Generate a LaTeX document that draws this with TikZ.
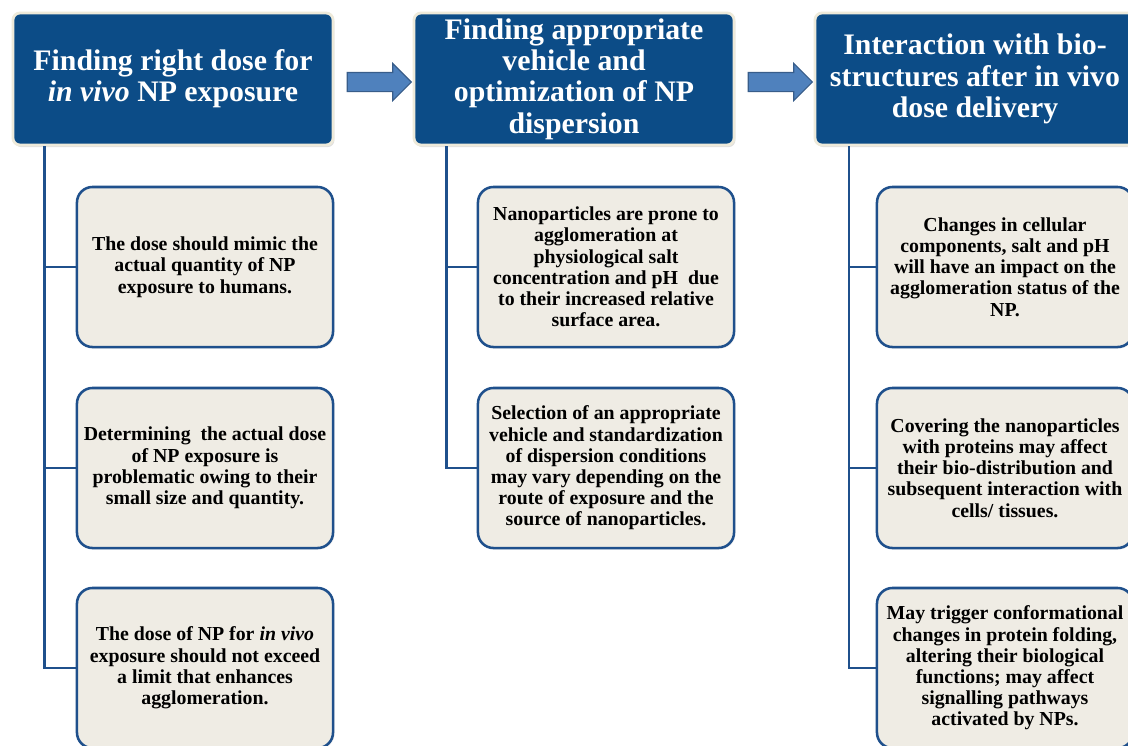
\documentclass[tikz,border=0pt]{standalone}
\usepackage{fontspec}
\setmainfont{Liberation Serif}
\usetikzlibrary{shapes.arrows, shadows, positioning, calc}
\definecolor{headblue}{RGB}{12, 76, 135}
\definecolor{creamrim}{RGB}{238, 234, 218}
\definecolor{linkblue}{RGB}{31, 80, 140}
\definecolor{boxfill}{RGB}{239, 236, 228}
\definecolor{arrowfill}{RGB}{79, 129, 189}
\definecolor{arrowdraw}{RGB}{56, 93, 138}

\begin{document}
\begin{tikzpicture}[
    x=0.025cm, y=-0.025cm,
    % header boxes
    head/.style={rectangle, rounded corners=5pt, draw=creamrim, line width=2pt,
                 fill=headblue, text=white, minimum width=8cm, minimum height=3.3cm,
                 align=center, font=\fontsize{21.2}{22.2}\selectfont\bfseries,
                 drop shadow={opacity=0.25, shadow xshift=1pt, shadow yshift=-1.5pt}},
    % content boxes
    info/.style={rectangle, rounded corners=11pt, draw=linkblue, line width=1.8pt,
                 fill=boxfill, minimum width=6.4cm, minimum height=4cm,
                 align=center, font=\fontsize{14.1}{15.1}\selectfont\bfseries,
                 drop shadow={opacity=0.15, shadow xshift=1pt, shadow yshift=-1pt}},
    % block arrows between headers
    blockarrow/.style={single arrow, draw=arrowdraw, fill=arrowfill, line width=0.8pt,
                       inner sep=0pt, inner ysep=0.225cm, minimum height=1.6cm,
                       single arrow head extend=0.225cm, single arrow head indent=0pt,
                       outer sep=0pt},
    % tree lines
    tree/.style={draw=linkblue, line width=1.8pt},
]

\fill[white] (0,0) rectangle (1128,745);
\clip (0,0) rectangle (1128,745);
\useasboundingbox (0,0) rectangle (1128,745);

% ===================== headers =====================
\node[head] (h1) at (173, 79) {Finding right dose for\\\textit{in vivo} NP exposure};
\node[head] (h2) at (574, 79) {Finding appropriate\\vehicle and\\optimization of NP\\dispersion};
\node[head] (h3) at (975, 79) {Interaction with bio-\\structures after in vivo\\dose delivery};

\node[blockarrow, yshift=-0.075cm, xshift=0.025cm] (ar1) at ($(h1.east)!0.5!(h2.west)$) {};
\node[blockarrow, yshift=-0.075cm, xshift=0.025cm] (ar2) at ($(h2.east)!0.5!(h3.west)$) {};

% ===================== column 1 =====================
\node[info] (a1) at (205, 267) {The dose should mimic the\\actual quantity of NP\\exposure to humans.};
\node[info] (a2) at (205, 468) {Determining~ the actual dose\\of NP exposure is\\problematic owing to their\\small size and quantity.};
\node[info] (a3) at (205, 668) {The dose of NP for \textit{in vivo}\\exposure should not exceed\\a limit that enhances\\agglomeration.};

\coordinate (t1) at ([xshift=0.83cm]h1.south west);
\foreach \b in {a1,a2,a3}{
    \draw[tree] (t1) |- (\b.west);
}

% ===================== column 2 =====================
\node[info] (b1) at (606, 267) {Nanoparticles are prone to\\agglomeration at\\physiological salt\\concentration and pH~ due\\to their increased relative\\surface area.};
\node[info] (b2) at (606, 468) {Selection of an appropriate\\vehicle and standardization\\of dispersion conditions\\may vary depending on the\\route of exposure and the\\source of nanoparticles.};

\coordinate (t2) at ([xshift=0.85cm]h2.south west);
\foreach \b in {b1,b2}{
    \draw[tree] (t2) |- (\b.west);
}

% ===================== column 3 =====================
\node[info] (c1) at (1005, 267) {Changes in cellular\\components, salt and pH\\will have an impact on the\\agglomeration status of the\\NP.};
\node[info] (c2) at (1005, 468) {Covering the nanoparticles\\with proteins may affect\\their bio-distribution and\\subsequent interaction with\\cells/ tissues.};
\node[info] (c3) at (1005, 668) {May trigger conformational\\changes in protein folding,\\altering their biological\\functions; may affect\\signalling pathways\\activated by NPs.};

\coordinate (t3) at ([xshift=0.88cm]h3.south west);
\foreach \b in {c1,c2,c3}{
    \draw[tree] (t3) |- (\b.west);
}

\end{tikzpicture}
\end{document}
